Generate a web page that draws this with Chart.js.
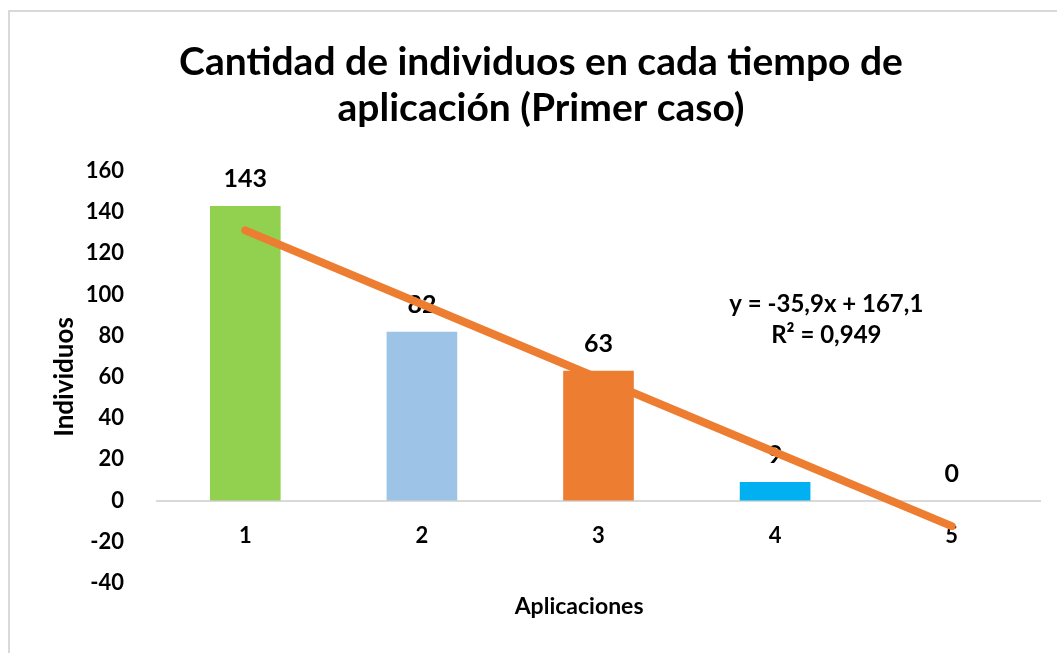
<!DOCTYPE html>
<html>
<head>
<meta charset="utf-8">
<script src="https://cdn.jsdelivr.net/npm/chart.js@4.4.1/dist/chart.umd.min.js"></script>
<style>
  html, body { margin: 0; padding: 0; background: #fff; overflow: hidden; }
  #frame { position: absolute; left: 8px; top: 10px; width: 1200px; height: 800px;
           border-left: 2px solid #d9d9d9; border-top: 2px solid #d9d9d9; }
  #wrap { position: absolute; left: 0; top: 0; width: 1057px; height: 653px; }
</style>
</head>
<body>
<div id="frame"></div>
<div id="wrap"><canvas id="chart"></canvas></div>
<script>
const categories = ["1", "2", "3", "4", "5"];
const individuos = [143, 82, 63, 9, 0];
const barColors = ["#92D050", "#9DC3E6", "#ED7D31", "#00B0F0", "#5B9BD5"];
// linear trend line (y = -35,9x + 167,1)
const trendValues = [131.2, 95.3, 59.4, 23.5, -12.4];
const trendText = ["y = -35,9x + 167,1", "R² = 0,949"];
const xTitle = "Aplicaciones";
const yMin = -40, yMax = 160, yStep = 20;

const FONT = "Lato";

const labelPlugin = {
  id: "barLabels",
  afterDatasetDraw(chart, args) {
    if (args.index !== 1) return;
    const ctx = chart.ctx;
    ctx.save();
    ctx.font = "bold 25px " + FONT;
    ctx.fillStyle = "#000";
    ctx.textAlign = "center";
    ctx.textBaseline = "middle";
    args.meta.data.forEach((bar, i) => {
      ctx.fillText(String(individuos[i]), bar.x, bar.y - 27);
    });
    ctx.restore();
  },
  afterDraw(chart) {
    const ctx = chart.ctx;
    const x = chart.scales.x;
    const y = chart.scales.y;
    const step = x.getPixelForValue(4) - x.getPixelForValue(3);
    ctx.save();
    ctx.fillStyle = "#000";
    ctx.textAlign = "center";
    ctx.textBaseline = "middle";
    // trend line equation
    ctx.font = "bold 24px " + FONT;
    const px = x.getPixelForValue(3) + 0.29 * step;
    ctx.fillText(trendText[0], px, y.getPixelForValue(95.5));
    ctx.fillText(trendText[1], px, y.getPixelForValue(80.5));
    // x axis title, sits a bit left of the plot centre as in the original
    ctx.font = "bold 23px " + FONT;
    ctx.fillText(xTitle, x.getPixelForValue(2) - 0.11 * step, chart.chartArea.bottom + 24);
    ctx.restore();
  }
};

const config = {
  type: "bar",
  data: {
    labels: categories,
    datasets: [
      {
        type: "line",
        label: "Tendencia",
        data: trendValues,
        borderColor: "#ED7D31",
        borderWidth: 8,
        borderCapStyle: "round",
        pointRadius: 0,
        tension: 0,
        order: 0,
      },
      {
        label: "Individuos",
        data: individuos,
        backgroundColor: barColors,
        barPercentage: 0.4,
        categoryPercentage: 1,
        order: 1,
      },
    ],
  },
  options: {
    responsive: true,
    maintainAspectRatio: false,
    animation: false,
    layout: { padding: { left: 42, right: 17, top: 0, bottom: 0 } },
    plugins: {
      legend: { display: false },
      tooltip: { enabled: false },
      title: {
        display: true,
        text: ["Cantidad de individuos en cada tiempo de", "aplicación (Primer caso)"],
        color: "#000",
        font: { family: FONT, weight: "bold", size: 39, lineHeight: "46px" },
        padding: { top: 39, bottom: 40 },
      },
    },
    scales: {
      x: {
        type: "category",
        position: { y: 0 },
        grid: { display: false },
        border: { display: true, color: "#d9d9d9", width: 2 },
        ticks: { color: "#000", font: { family: FONT, weight: "bold", size: 22 }, padding: 14 },
      },
      xt: {
        type: "category",
        labels: categories,
        position: "bottom",
        grid: { display: false },
        border: { display: false },
        ticks: { display: false },
        afterFit: (s) => { s.height = 70; },
      },
      y: {
        min: yMin,
        max: yMax,
        grid: { display: false },
        border: { display: false },
        afterFit: (s) => { s.width = 115; },
        ticks: { stepSize: yStep, color: "#000", font: { family: FONT, weight: "bold", size: 22 }, padding: 25 },
        title: {
          display: true,
          text: "Individuos",
          color: "#000",
          font: { family: FONT, weight: "bold", size: 26 },
          padding: { top: 7, bottom: 0 },
        },
      },
    },
  },
  plugins: [labelPlugin],
};

new Chart(document.getElementById("chart"), config);
</script>
</body>
</html>
